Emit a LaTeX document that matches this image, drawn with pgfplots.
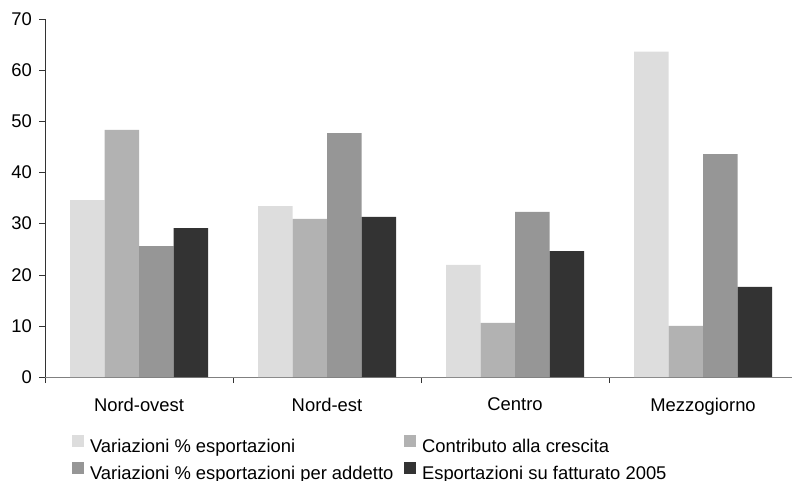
\documentclass[border=0pt]{standalone}
\usepackage{fontspec}
\setmainfont{Liberation Sans}
\usepackage{pgfplots}
\pgfplotsset{compat=1.18}

\definecolor{cA}{HTML}{DDDDDD}
\definecolor{cB}{HTML}{B2B2B2}
\definecolor{cC}{HTML}{969696}
\definecolor{cD}{HTML}{333333}
\definecolor{xline}{HTML}{808080}

\begin{document}
\begin{tikzpicture}
\useasboundingbox (-22.5pt,-52pt) rectangle (373.5pt,188.5pt);
\begin{axis}[
  at={(0,0)}, anchor=south west,
  scale only axis,
  width=373.5pt, height=179pt,
  font=\fontsize{9.2}{11}\selectfont,
  /pgf/number format/assume math mode=true,
  ybar=0pt,
  bar width=0.1835,
  xmin=-0.5, xmax=3.473,
  ymin=0, ymax=70,
  ytick={0,10,...,70},
  axis x line=bottom, axis y line=left,
  axis line style={-},
  x axis line style={xline},
  y axis line style={cD},
  % ticks at the group boundaries, names shifted to the group centres
  xtick={-0.5,0.5,1.5,2.5},
  xticklabels={Nord-ovest,Nord-est,Centro,Mezzogiorno},
  x tick label style={xshift=47pt, yshift=-4pt},
  xtick style={cD},
  ytick style={cD},
  tick align=outside,
  major tick length=3pt,
  legend columns=2,
  legend cell align=left,
  legend style={draw=none, fill=none, inner sep=0pt,
    at={(axis description cs:0,0)}, anchor=north west,
    xshift=13.5pt, yshift=-29pt,
    font=\fontsize{9.2}{11}\selectfont,
    row sep=3.2pt,
    nodes={inner sep=0pt, text height=7pt, text depth=2pt},
    /tikz/column 1/.style={column sep=3pt},
    /tikz/column 2/.style={column sep=5.5pt},
    /tikz/column 3/.style={column sep=3pt}},
  legend image code/.code={\fill[#1] (0pt,0pt) rectangle (5.8pt,5.8pt);},
]
\addplot[fill=cA, draw=none] coordinates {(0,34.6) (1,33.4) (2,21.9) (3,63.6)};
\addplot[fill=cB, draw=none] coordinates {(0,48.3) (1,30.9) (2,10.6) (3,10.0)};
\addplot[fill=cC, draw=none] coordinates {(0,25.6) (1,47.7) (2,32.3) (3,43.6)};
\addplot[fill=cD, draw=none] coordinates {(0,29.1) (1,31.3) (2,24.6) (3,17.6)};
\legend{Variazioni \% esportazioni, Contributo alla crescita,
  Variazioni \% esportazioni per addetto, Esportazioni su fatturato 2005}
\end{axis}
\end{tikzpicture}
\end{document}
